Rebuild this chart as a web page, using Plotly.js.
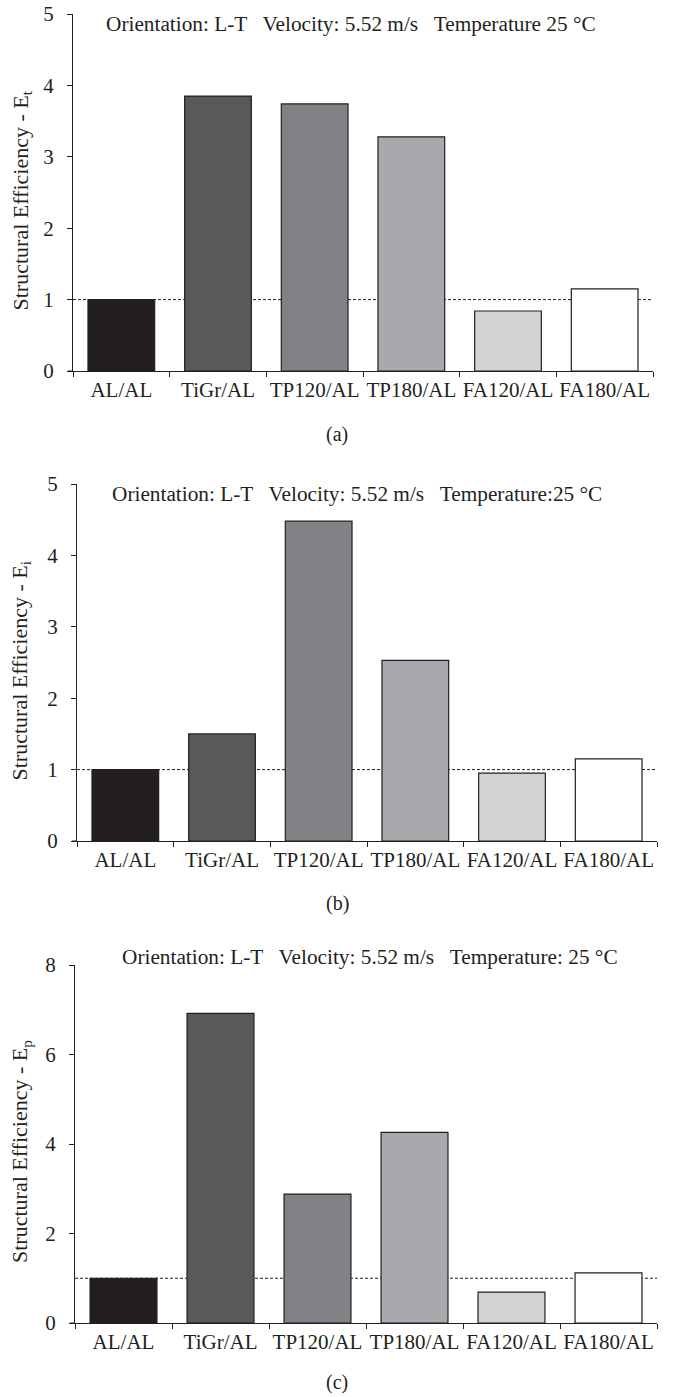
<!DOCTYPE html>
<html>
<head>
<meta charset="utf-8">
<script src="https://cdn.plot.ly/plotly-3.0.1.min.js"></script>
<style>html,body{margin:0;padding:0;background:#fff;}#chart{width:673px;height:1397px;}</style>
</head>
<body>
<div id="chart"></div>
<script>
// ---- data ----
const categories = ["AL/AL", "TiGr/AL", "TP120/AL", "TP180/AL", "FA120/AL", "FA180/AL"];
const barColors = ["#231f20", "#58595b", "#808285", "#a7a9ac", "#d1d3d4", "#ffffff"];
const valuesA = [1.00, 3.85, 3.74, 3.28, 0.84, 1.15];
const valuesB = [1.00, 1.50, 4.48, 2.53, 0.95, 1.15];
const valuesC = [1.00, 6.92, 2.88, 4.26, 0.69, 1.12];
const yTitles = ["Structural Efficiency - E<sub>t</sub>", "Structural Efficiency - E<sub>i</sub>", "Structural Efficiency - E<sub>p</sub>"];
const notes = [
  "Orientation: L-T   Velocity: 5.52 m/s   Temperature 25 \u00B0C",
  "Orientation: L-T   Velocity: 5.52 m/s   Temperature:25 \u00B0C",
  "Orientation: L-T   Velocity: 5.52 m/s   Temperature: 25 \u00B0C"
];
const captions = ["(a)", "(b)", "(c)"];
const yMax = [5, 5, 8];
const yDtick = [1, 1, 2];
const refLevel = 1;

// ---- layout geometry (pixels) ----
const W = 673, H = 1397;
const panels = [
  {x0: 73, x1: 653, top: 14, bottom: 371, note: [104, 24], cap: 435},
  {x0: 77, x1: 657, top: 484, bottom: 841, note: [110, 494], cap: 903},
  {x0: 75, x1: 657, top: 965, bottom: 1323, note: [120, 957], cap: 1382}
];
const allValues = [valuesA, valuesB, valuesC];
const FONT = "Liberation Serif, Times New Roman, serif";
const INK = "#231f20";

const data = [];
const layout = {
  width: W, height: H,
  margin: {l: 0, r: 0, t: 0, b: 0},
  paper_bgcolor: "#fff", plot_bgcolor: "#fff",
  showlegend: false,
  bargap: 0.31,
  font: {family: FONT, color: INK, size: 18},
  shapes: [], annotations: []
};

panels.forEach((p, i) => {
  const sfx = i === 0 ? "" : String(i + 1);
  data.push({
    type: "bar", x: categories, y: allValues[i],
    xaxis: "x" + sfx, yaxis: "y" + sfx,
    marker: {color: barColors, line: {color: INK, width: 1.2}},
    hoverinfo: "skip"
  });
  layout["xaxis" + sfx] = {
    domain: [p.x0 / W, p.x1 / W], anchor: "y" + sfx,
    type: "category", range: [-0.5, 5.5],
    showline: true, linecolor: INK, linewidth: 1,
    ticks: "outside", tickson: "boundaries", ticklen: 5, tickcolor: INK, tickwidth: 1,
    showgrid: false, zeroline: false, tickangle: 0,
    tickfont: {family: FONT, size: 21, color: INK}
  };
  layout["yaxis" + sfx] = {
    domain: [1 - p.bottom / H, 1 - p.top / H], anchor: "x" + sfx,
    range: [0, yMax[i]], dtick: yDtick[i], tick0: 0,
    showline: true, linecolor: INK, linewidth: 1,
    ticks: "outside", ticklen: 5, tickcolor: INK, tickwidth: 1,
    showgrid: false, zeroline: false,
    ticklabelstandoff: 9,
    tickfont: {family: FONT, size: 21, color: INK}
  };
  // small extension of the x axis line to the left, meeting the y tick at zero
  layout.shapes.push({
    type: "line", xref: "paper", yref: "y" + sfx,
    x0: (p.x0 - 5) / W, x1: p.x0 / W, y0: 0, y1: 0,
    line: {color: INK, width: 1}
  });
  layout.shapes.push({
    type: "line", xref: "x" + sfx, yref: "y" + sfx,
    x0: -0.5, x1: 5.5, y0: refLevel, y1: refLevel,
    line: {color: INK, width: 1, dash: "3px,2px"}, layer: "below"
  });
  layout.annotations.push({
    xref: "paper", yref: "paper", x: 21 / W, y: 1 - ((p.top + p.bottom) / 2 + 8) / H,
    xanchor: "center", yanchor: "middle", textangle: -90, showarrow: false,
    text: yTitles[i], font: {family: FONT, size: 22, color: INK}
  });
  layout.annotations.push({
    xref: "paper", yref: "paper", x: p.note[0] / W, y: 1 - p.note[1] / H,
    xanchor: "left", yanchor: "middle", showarrow: false,
    text: notes[i], font: {family: FONT, size: 21.3, color: INK}
  });
  layout.annotations.push({
    xref: "paper", yref: "paper", x: 337 / W, y: 1 - p.cap / H,
    xanchor: "center", yanchor: "middle", showarrow: false,
    text: captions[i], font: {family: FONT, size: 20, color: INK}
  });
});

Plotly.newPlot("chart", data, layout, {staticPlot: true, displayModeBar: false});
</script>
</body>
</html>
